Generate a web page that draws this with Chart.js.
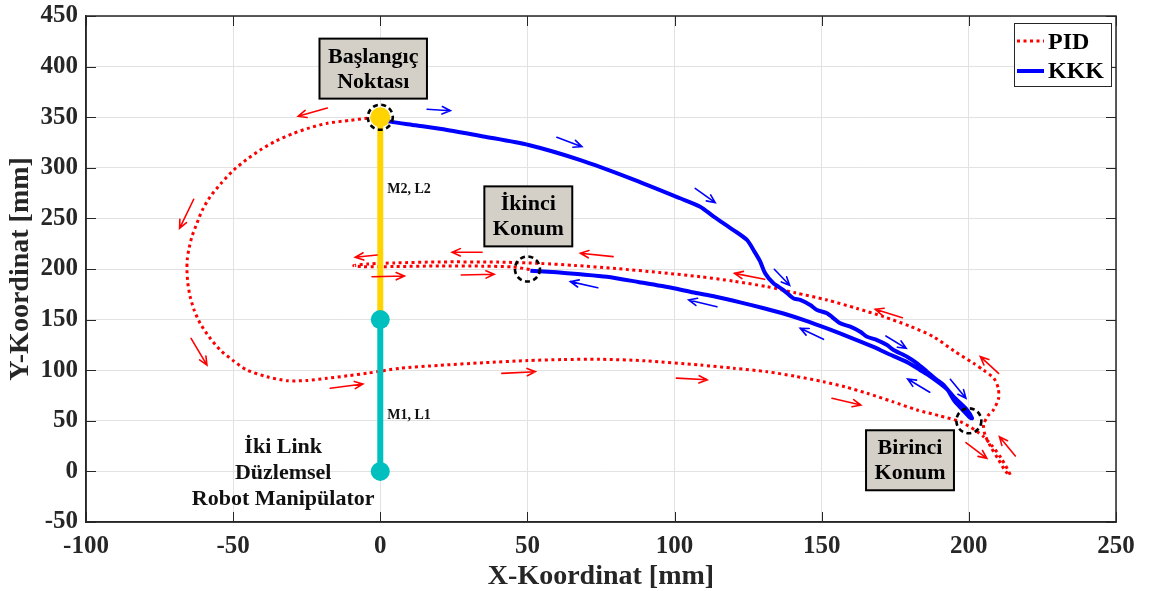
<!DOCTYPE html>
<html>
<head>
<meta charset="utf-8">
<script src="https://cdn.jsdelivr.net/npm/chart.js@4.4.1/dist/chart.umd.min.js"></script>
<style>
  html, body { margin: 0; padding: 0; background: #ffffff; }
  #wrap { width: 1149px; height: 591px; }
</style>
</head>
<body>
<div id="wrap"><canvas id="chart" width="1149" height="591"></canvas></div>
<script>
// ---- axis ranges / ticks ----
const xRange = [-100, 250];
const yRange = [-50, 450];
const tickStep = 50;

// ---- PID end-effector path (mm) ----
const pidX = [0, -4.5, -10, -18, -24, -29.5, -35.5, -40.8, -45.5, -49.8, -54, -57.8, -60.5, -62.3, -64, -65.1, -65.6, -65.7, -65.4, -64.6, -63.2, -61.2, -58.2, -54.4, -50, -45.3, -38.5, -31.7, -25, -18.1, -11, -4.5, 6.8, 20, 35.1, 50, 62, 74.8, 90, 108.7, 120, 131.4, 141, 150.6, 158, 165.4, 174, 182.4, 190, 197.1, 202, 205, 208, 211, 214.1,
  212.5, 210, 207.5, 205.5, 205, 206.5, 208.4, 210.1, 210, 208.5, 205, 201.6, 195, 188, 180, 171, 162, 151.8, 141, 131.4, 120, 108.7, 95, 80, 66, 54.4, 40, 20.4, 5, -4, -9, -6, 5, 20.4, 35, 45, 51];
const pidY = [350, 349, 347, 344, 339.5, 334, 326.5, 317.6, 308, 297.8, 285, 271.4, 258, 245.2, 232, 218.8, 209, 199, 186, 172.6, 159, 146.3, 133, 120, 109.5, 100.2, 93.5, 89.6, 89.8, 92, 94.5, 97, 101.9, 104.8, 107.4, 109.5, 110.5, 110.8, 109.3, 105.1, 102, 98.5, 94, 88.6, 83.5, 77.2, 69, 60.7, 55, 49.1, 41, 34.3, 25, 13, -3.6,
  0, 12, 24, 36, 46, 55, 61, 72.2, 82, 92, 100, 106.8, 119, 133, 143.5, 152.9, 161, 169.4, 176.5, 182.5, 188, 192.4, 196.5, 200.5, 203.5, 205.5, 206.8, 207, 206, 205, 203.3, 202.3, 202.4, 203, 202.8, 202, 199.5];

// ---- KKK end-effector path (mm) ----
const kkkX = [1, 3.4, 12, 22.7, 35, 50.4, 68, 85, 101.9, 108.7, 113.3, 120, 124.6, 126.8, 129, 130.8, 133.6, 137, 140.4, 142.7, 146.1, 148.4, 151.8, 156.3, 159.7, 163.1, 165.4, 168.8, 172.2, 174.4, 179, 182.4, 185.8, 189.2, 191.4, 194.8, 199.4, 201.1,
  200.5, 197.5, 195, 192.6, 187, 183.5, 179, 172, 167.6, 160, 152, 145, 137, 130, 122.3, 114, 106, 99.7, 88, 77, 67, 60, 51];
const kkkY = [347.5, 345.6, 342, 337.4, 331, 322.5, 307.6, 289.6, 269.9, 261.6, 251.8, 238.5, 228.7, 218.8, 208, 195.7, 185.9, 179.2, 171, 169.4, 164.4, 159.5, 156.2, 146.3, 143, 138, 133.1, 129.8, 124.9, 120, 113.3, 106.8, 98.5, 90.3, 85.4, 73.8, 60.7, 52.5,
  53, 62, 70, 81, 93.6, 100, 108, 117, 123, 132, 141, 148.5, 156, 161.5, 167, 172.5, 177, 181, 187, 192.4, 195, 196.7, 198.3];

// ---- manipulator links and joints (mm) ----
const link1X = [0, 0], link1Y = [0, 150];
const link2X = [0, 0], link2Y = [150, 350];
const jointX = [0, 0], jointY = [0, 150];
const tipX = [0], tipY = [350];

// ---- marked positions: start, second, first ----
const targetX = [0, 50, 200];
const targetY = [350, 200, 50];

// ---- direction arrows [x tail, y tail, x head, y head] ----
const pidArrows = [
  [-18, 359, -27.9, 351], [-63.4, 268.9, -68.2, 240.2], [-64.3, 131.5, -58.9, 105.1],
  [-17, 82.1, -5.9, 86.4], [41.3, 96.9, 52.7, 98.5], [100.6, 92.2, 111.1, 90.5],
  [153.5, 72.2, 163.3, 65.6], [199, 28.4, 206.1, 12.9], [215.8, 15.2, 210.4, 34.3],
  [210.1, 96.9, 203.9, 113.4], [177.4, 151.9, 168.2, 160.2], [130.6, 189.8, 120.4, 195.7],
  [79.1, 212.2, 68, 215.5], [34.6, 216.5, 24.4, 216.5], [-1.1, 213.8, -8.5, 211.6],
  [-2.8, 192.4, 8.2, 193.1], [27.5, 194.1, 38.7, 194.8]
];
const kkkArrows = [
  [15.9, 357.8, 23.8, 356.4], [60, 330.1, 68.5, 320.9], [107, 279.7, 113.8, 265.5],
  [133.9, 199.7, 139.1, 183.9], [171.8, 133.8, 178.7, 121.6], [193.7, 91, 199, 72.2],
  [186.7, 78.2, 179.2, 91.3], [150.6, 130.5, 142.7, 141.4], [114.4, 162.7, 104.8, 169.4],
  [73.9, 181.5, 64.6, 187.5]
];

// ---- text annotations ----
const boxTexts = [['Başlangıç', 'Noktası'], ['İkinci', 'Konum'], ['Birinci', 'Konum']];
const boxAtX = [-2.4, 50.3, 180];
const boxAtY = [398, 252, 11];
const linkNames = ['M2, L2', 'M1, L1'];
const linkNameY = [275, 51.8];
const robotCaption = ['İki Link', 'Düzlemsel', 'Robot Manipülator'];
const robotCaptionAt = [-33, 18.2];
const seriesNames = ['PID', 'KKK'];

const FONT = '"Liberation Serif", "Times New Roman", Times, serif';
const RED = '#ff0000', BLUE = '#0000ff', YELLOW = '#ffd400', TEAL = '#00bfbf';
const AXIS = '#262626', GRID = '#e2e2e2', BOXFILL = '#d4d0c8';

const pts = (xs, ys) => xs.map((x, i) => ({ x, y: ys[i] }));

function drawArrow(ctx, x1, y1, x2, y2, color) {
  const a = Math.atan2(y2 - y1, x2 - x1), h = 9, s = 0.42;
  ctx.save();
  ctx.strokeStyle = color; ctx.lineWidth = 1.6; ctx.lineCap = 'round';
  ctx.beginPath();
  ctx.moveTo(x1, y1); ctx.lineTo(x2, y2);
  ctx.moveTo(x2 - h * Math.cos(a - s), y2 - h * Math.sin(a - s));
  ctx.lineTo(x2, y2);
  ctx.lineTo(x2 - h * Math.cos(a + s), y2 - h * Math.sin(a + s));
  ctx.stroke();
  ctx.restore();
}

const overlay = {
  id: 'overlay',
  afterDatasetsDraw(chart) {
    const { ctx, scales: { x, y } } = chart;
    // direction arrows
    pidArrows.forEach(a => drawArrow(ctx, x.getPixelForValue(a[0]), y.getPixelForValue(a[1]), x.getPixelForValue(a[2]), y.getPixelForValue(a[3]), RED));
    kkkArrows.forEach(a => drawArrow(ctx, x.getPixelForValue(a[0]), y.getPixelForValue(a[1]), x.getPixelForValue(a[2]), y.getPixelForValue(a[3]), BLUE));
    // dashed rings around the marked positions
    ctx.save();
    ctx.strokeStyle = '#000'; ctx.lineWidth = 2.6; ctx.setLineDash([5, 3.5]);
    targetX.forEach((tx, i) => {
      ctx.beginPath();
      ctx.arc(x.getPixelForValue(tx), y.getPixelForValue(targetY[i]), 12.5, 0, Math.PI * 2);
      ctx.stroke();
    });
    ctx.restore();
    // link names
    ctx.save();
    ctx.fillStyle = '#111'; ctx.font = 'bold 14px ' + FONT; ctx.textAlign = 'left'; ctx.textBaseline = 'alphabetic';
    linkNames.forEach((t, i) => ctx.fillText(t, x.getPixelForValue(0) + 7, y.getPixelForValue(linkNameY[i])));
    // caption
    ctx.font = 'bold 22px ' + FONT; ctx.textAlign = 'center';
    robotCaption.forEach((t, i) => ctx.fillText(t, x.getPixelForValue(robotCaptionAt[0]), y.getPixelForValue(robotCaptionAt[1]) + i * 26));
    // labelled boxes
    ctx.font = 'bold 22px ' + FONT;
    boxTexts.forEach((lines, i) => {
      const cx = x.getPixelForValue(boxAtX[i]), cy = y.getPixelForValue(boxAtY[i]);
      const w = Math.max(...lines.map(l => ctx.measureText(l).width)) + 17, hgt = 60;
      ctx.fillStyle = BOXFILL; ctx.strokeStyle = '#000'; ctx.lineWidth = 2;
      ctx.fillRect(cx - w / 2, cy - hgt / 2, w, hgt);
      ctx.strokeRect(cx - w / 2, cy - hgt / 2, w, hgt);
      ctx.fillStyle = '#000'; ctx.textBaseline = 'alphabetic';
      lines.forEach((l, k) => ctx.fillText(l, cx, cy - 6 + k * 25));
    });
    ctx.restore();
  },
  afterDraw(chart) {
    const { ctx, chartArea: ca, scales: { x, y } } = chart;
    ctx.save();
    // frame + inward tick marks
    ctx.strokeStyle = AXIS; ctx.lineWidth = 1.5;
    ctx.strokeRect(ca.left, ca.top, ca.right - ca.left, ca.bottom - ca.top);
    ctx.lineWidth = 1;
    ctx.beginPath();
    for (let v = xRange[0]; v <= xRange[1]; v += tickStep) {
      const px = Math.round(x.getPixelForValue(v)) + 0.5;
      ctx.moveTo(px, ca.bottom); ctx.lineTo(px, ca.bottom - 10);
      ctx.moveTo(px, ca.top); ctx.lineTo(px, ca.top + 10);
    }
    for (let v = yRange[0]; v <= yRange[1]; v += tickStep) {
      const py = Math.round(y.getPixelForValue(v)) + 0.5;
      ctx.moveTo(ca.left, py); ctx.lineTo(ca.left + 10, py);
      ctx.moveTo(ca.right, py); ctx.lineTo(ca.right - 10, py);
    }
    ctx.stroke();
    // legend
    const lx = ca.right - 102, ly = ca.top + 7, lw = 97, lh = 63;
    ctx.fillStyle = '#fff'; ctx.fillRect(lx, ly, lw, lh);
    ctx.strokeStyle = AXIS; ctx.lineWidth = 1; ctx.strokeRect(lx + 0.5, ly + 0.5, lw, lh);
    ctx.lineWidth = 3; ctx.strokeStyle = RED; ctx.setLineDash([3, 3.5]);
    ctx.beginPath(); ctx.moveTo(lx + 3, ly + 18); ctx.lineTo(lx + 30, ly + 18); ctx.stroke();
    ctx.setLineDash([]); ctx.lineWidth = 4; ctx.strokeStyle = BLUE;
    ctx.beginPath(); ctx.moveTo(lx + 3, ly + 48); ctx.lineTo(lx + 30, ly + 48); ctx.stroke();
    ctx.fillStyle = '#000'; ctx.font = 'bold 24px ' + FONT; ctx.textAlign = 'left'; ctx.textBaseline = 'alphabetic';
    ctx.fillText(seriesNames[0], lx + 34, ly + 26);
    ctx.fillText(seriesNames[1], lx + 34, ly + 55);
    ctx.restore();
  }
};

const tickFont = { family: FONT, size: 25, weight: 'bold' };
const titleFont = { family: FONT, size: 28, weight: 'bold', lineHeight: 1 };

new Chart(document.getElementById('chart'), {
  type: 'scatter',
  data: {
    datasets: [
      { label: 'joint', data: pts(jointX, jointY), showLine: false, pointRadius: 9.5, pointBackgroundColor: TEAL, pointBorderWidth: 0, order: 0 },
      { label: 'tip', data: pts(tipX, tipY), showLine: false, pointRadius: 10, pointBackgroundColor: YELLOW, pointBorderWidth: 0, order: 1 },
      { label: 'L1', data: pts(link1X, link1Y), showLine: true, borderColor: TEAL, borderWidth: 6, pointRadius: 0, order: 2 },
      { label: 'L2', data: pts(link2X, link2Y), showLine: true, borderColor: YELLOW, borderWidth: 6, pointRadius: 0, order: 3 },
      { label: seriesNames[1], data: pts(kkkX, kkkY), showLine: true, borderColor: BLUE, borderWidth: 4, pointRadius: 0, borderJoinStyle: 'round', tension: 0.25, order: 4 },
      { label: seriesNames[0], data: pts(pidX, pidY), showLine: true, borderColor: RED, borderWidth: 3, borderDash: [3, 3.5], pointRadius: 0, tension: 0.25, order: 5 }
    ]
  },
  options: {
    responsive: false,
    animation: false,
    devicePixelRatio: 1,
    layout: { padding: { left: 0, top: 16, right: 33, bottom: 0 } },
    plugins: { legend: { display: false }, tooltip: { enabled: false } },
    scales: {
      x: {
        type: 'linear', min: xRange[0], max: xRange[1],
        ticks: { stepSize: tickStep, font: tickFont, color: AXIS, padding: 10, maxRotation: 0, autoSkip: false },
        grid: { color: GRID, drawTicks: false, lineWidth: 1 },
        border: { display: true, color: AXIS, width: 1.5 },
        title: { display: true, text: 'X-Koordinat [mm]', font: titleFont, color: AXIS, padding: { top: 0, bottom: 0 } },
        afterFit(s) { s.height = 69; s.paddingLeft = 0; s.paddingRight = 0; }
      },
      y: {
        type: 'linear', min: yRange[0], max: yRange[1],
        ticks: { stepSize: tickStep, font: tickFont, color: AXIS, padding: 8, autoSkip: false },
        grid: { color: GRID, drawTicks: false, lineWidth: 1 },
        border: { display: true, color: AXIS, width: 1.5 },
        title: { display: true, text: 'Y-Koordinat [mm]', font: titleFont, color: AXIS, padding: { top: 7, bottom: 0 } },
        afterFit(s) { s.width = 86; s.paddingTop = 0; s.paddingBottom = 0; }
      }
    }
  },
  plugins: [overlay]
});
</script>
</body>
</html>
